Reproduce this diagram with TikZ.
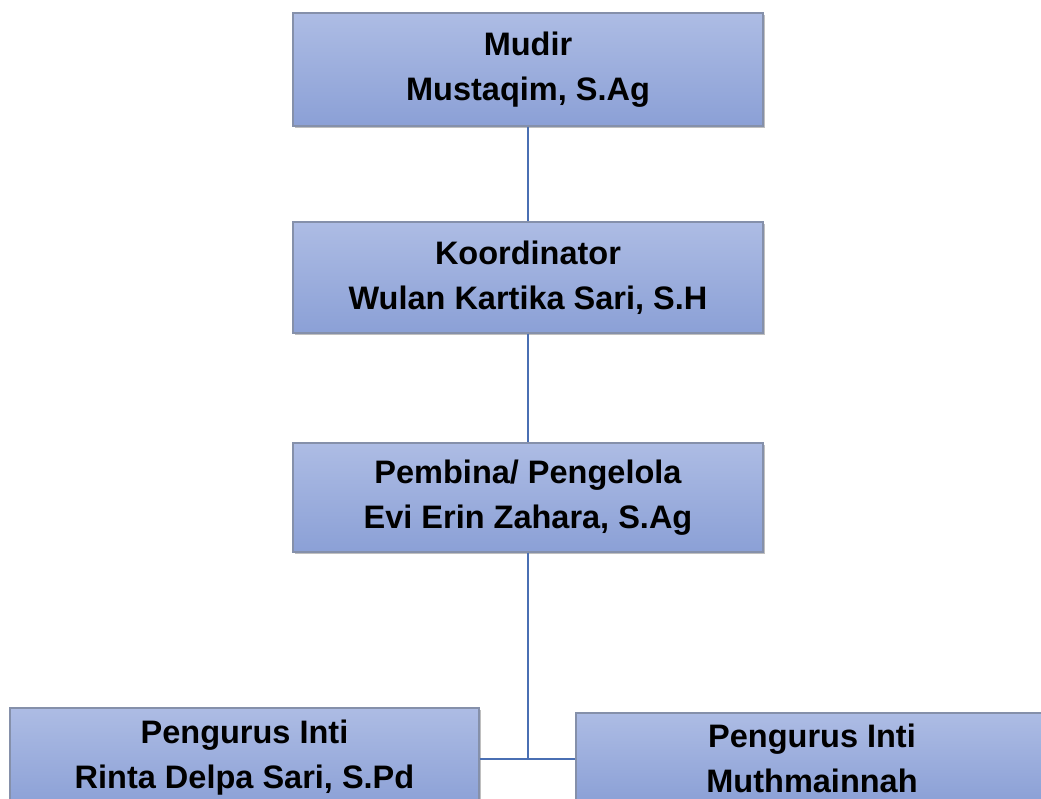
\documentclass[tikz,border=0pt]{standalone}
\usepackage{fontspec}
\setmainfont{Liberation Sans}
\usepackage{xcolor}
\usetikzlibrary{positioning,shadows}
\definecolor{boxtop}{HTML}{ADBCE4}
\definecolor{boxbot}{HTML}{8BA0D6}
\definecolor{boxline}{HTML}{8590AA}
\definecolor{linkblue}{HTML}{4A6FB3}

\begin{document}
\begin{tikzpicture}[
  x=1pt, y=-1pt,
  orgbox/.style={draw=boxline, line width=1.2pt, top color=boxtop, bottom color=boxbot,
    drop shadow={shadow xshift=2pt, shadow yshift=-2pt, fill=black, opacity=0.25},
    align=center, font=\fontsize{32.5}{45}\selectfont\bfseries, inner sep=0pt},
  link/.style={draw=linkblue, line width=1.8pt}
]
\useasboundingbox (0,0) rectangle (1041,799);
\clip (0,0) rectangle (1041,799);
\node[orgbox, minimum width=470pt, minimum height=113pt]
  (mudir) at (528,69.5) {Mudir\\Mustaqim, S.Ag};
\node[orgbox, minimum width=470pt, minimum height=111pt]
  (koord) at (528,277.5) {Koordinator\\Wulan Kartika Sari, S.H};
\node[orgbox, minimum width=470pt, minimum height=109pt]
  (pembina) at (528,497.5) {Pembina/ Pengelola\\Evi Erin Zahara, S.Ag};
\node[orgbox, minimum width=469pt, minimum height=100pt]
  (intiA) at (244.5,758) {Pengurus Inti\\Rinta Delpa Sari, S.Pd};
\node[orgbox, minimum width=472pt, minimum height=90pt]
  (intiB) at (812,758) {Pengurus Inti\\Muthmainnah};
\coordinate (junc) at (528,759);
\draw[link] (mudir.south) -- (koord.north);
\draw[link] (koord.south) -- (pembina.north);
\draw[link] (pembina.south) -- (junc);
\draw[link] (junc -| intiA.east) -- (junc -| intiB.west);
\end{tikzpicture}
\end{document}
